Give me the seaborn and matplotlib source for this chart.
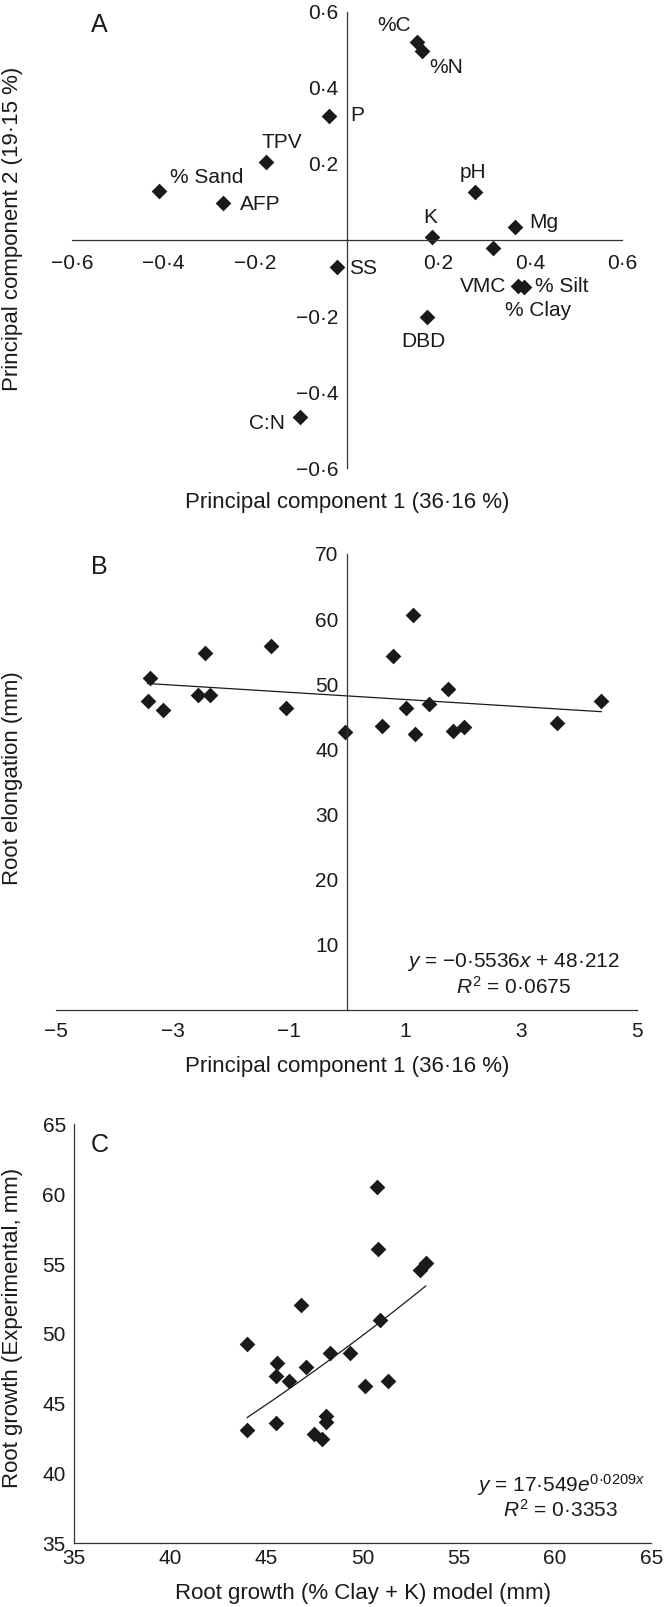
import numpy as np
import pandas as pd
import matplotlib
matplotlib.use('Agg')
import matplotlib.pyplot as plt
import seaborn as sns

# Panel A - PCA loadings
pca_labels = ['%C', '%N', 'P', 'TPV', '% Sand', 'AFP', 'pH', 'K', 'Mg', 'VMC',
              'SS', '% Silt', '% Clay', 'DBD', 'C:N']
pc1_load = [0.154, 0.165, -0.039, -0.176, -0.409, -0.270, 0.279, 0.186, 0.367, 0.319,
            -0.022, 0.374, 0.386, 0.175, -0.102]
pc2_load = [0.520, 0.496, 0.327, 0.204, 0.130, 0.096, 0.127, 0.009, 0.035, -0.020,
            -0.072, -0.120, -0.123, -0.202, -0.464]
pca_ticks = [-0.6, -0.4, -0.2, 0.2, 0.4, 0.6]
pca_ticklabels = ['\u22120\u00b76', '\u22120\u00b74', '\u22120\u00b72', '0\u00b72', '0\u00b74', '0\u00b76']

# Panel B - root elongation vs PC1 score
pc1_score = [-3.38, -3.43, -3.16, -2.44, -2.56, -2.36, -1.30, -1.04, -0.04, 0.60,
             0.79, 1.01, 1.17, 1.42, 1.74, 1.83, 2.01, 3.62, 4.38, 1.14]
root_elong = [50.9, 47.5, 46.0, 54.8, 48.4, 48.4, 55.9, 46.4, 42.7, 43.6,
              54.4, 46.4, 42.3, 46.9, 49.2, 42.8, 43.5, 44.0, 47.4, 60.6]
lin_slope, lin_icpt = -0.5536, 48.212
b_xticks = [-5, -3, -1, 1, 3, 5]
b_xticklabels = ['\u22125', '\u22123', '\u22121', '1', '3', '5']
b_yticks = [10, 20, 30, 40, 50, 60, 70]

# Panel C - experimental vs modelled root growth
model_growth = [50.72, 50.79, 52.95, 53.28, 46.80, 50.90, 43.98, 45.57, 45.48, 46.19,
                47.05, 48.28, 49.36, 50.11, 51.32, 43.98, 45.48, 47.48, 47.88, 48.10, 48.10]
exp_growth = [60.5, 56.1, 54.6, 55.1, 52.1, 51.0, 49.3, 47.9, 47.0, 46.6,
              47.6, 48.6, 48.6, 46.3, 46.6, 43.1, 43.6, 42.8, 42.5, 44.1, 43.7]
exp_a, exp_b = 17.549, 0.0209
c_ticks = [35, 40, 45, 50, 55, 60, 65]

# label placement for panel A (offset from point, data units)
label_offsets = {'%C': (-0.051, 0.044), '%N': (0.052, -0.042), 'P': (0.061, 0.0),
                 'TPV': (0.033, 0.053), '% Sand': (0.104, 0.033), 'AFP': (0.081, -0.003),
                 'pH': (-0.003, 0.051), 'K': (-0.005, 0.050), 'Mg': (0.062, 0.011),
                 'VMC': (-0.022, -0.103), 'SS': (0.057, -0.003), '% Silt': (0.094, -0.003),
                 '% Clay': (0.032, -0.061), 'DBD': (-0.009, -0.065), 'C:N': (-0.072, -0.018)}

sns.set_theme(style='white')
plt.rcParams['font.family'] = ['Liberation Sans', 'DejaVu Sans']
plt.rcParams['mathtext.fontset'] = 'custom'
plt.rcParams['mathtext.rm'] = 'Liberation Sans'
plt.rcParams['mathtext.it'] = 'Liberation Sans:italic'
plt.rcParams['text.color'] = '#1a1a1a'

FS = 15
LFS = 16
ink = '#1a1a1a'

fig = plt.figure(figsize=(6.64, 16.07), dpi=100)
axA = fig.add_axes([0.1084, 0.7086, 0.828, 0.2841])
axB = fig.add_axes([0.0848, 0.3715, 0.8752, 0.2838])
axC = fig.add_axes([0.1116, 0.0396, 0.8694, 0.2607])


def style_axis(ax, centered):
    for side in ['top', 'right']:
        ax.spines[side].set_visible(False)
    for side in ['left', 'bottom']:
        ax.spines[side].set_color('#333333')
        ax.spines[side].set_linewidth(0.9)
        if centered:
            ax.spines[side].set_position(('data', 0))
    ax.tick_params(direction='in', length=4.5, width=0.9, colors='#333333',
                   labelcolor=ink, labelsize=FS)
    ax.set_xlabel('')
    ax.set_ylabel('')
    ax.grid(False)


# ---- A ----
sns.scatterplot(x=pc1_load, y=pc2_load, marker='D', s=64, color=ink, linewidth=0, ax=axA)
for lab, x, y in zip(pca_labels, pc1_load, pc2_load):
    dx, dy = label_offsets[lab]
    axA.text(x + dx, y + dy, lab, ha='center', va='center', fontsize=FS)
axA.set_xlim(-0.6, 0.6)
axA.set_ylim(-0.6, 0.6)
style_axis(axA, True)
axA.set_xticks(pca_ticks)
axA.set_xticklabels(pca_ticklabels)
axA.set_yticks(pca_ticks)
axA.set_yticklabels(pca_ticklabels)
axA.tick_params(axis='x', pad=10)
axA.tick_params(axis='y', pad=6)
axA.text(0.05, 0.971, 'A', transform=axA.transAxes, fontsize=18, ha='center', va='center')

# ---- B ----
sns.scatterplot(x=pc1_score, y=root_elong, marker='D', s=64, color=ink, linewidth=0, ax=axB)
xb = np.array([min(pc1_score), max(pc1_score)])
sns.lineplot(x=xb, y=lin_slope * xb + lin_icpt, color=ink, linewidth=0.9, ax=axB)
axB.set_xlim(-5, 5)
axB.set_ylim(0, 70)
style_axis(axB, True)
axB.set_xticks(b_xticks)
axB.set_xticklabels(b_xticklabels)
axB.set_yticks(b_yticks)
axB.tick_params(axis='x', pad=9)
axB.tick_params(axis='y', pad=6)
axB.text(0.0743, 0.972, 'B', transform=axB.transAxes, fontsize=18, ha='center', va='center')
axB.text(2.87, 7.41, '$y$ = \u22120\u00b75536$x$ + 48\u00b7212', ha='center', va='center', fontsize=FS)
axB.text(2.87, 3.58, '$R^{\\mathrm{2}}$ = 0\u00b70675', ha='center', va='center', fontsize=FS)

# ---- C ----
sns.scatterplot(x=model_growth, y=exp_growth, marker='D', s=64, color=ink, linewidth=0, ax=axC)
xc = np.linspace(min(model_growth), max(model_growth), 50)
sns.lineplot(x=xc, y=exp_a * np.exp(exp_b * xc), color=ink, linewidth=0.9, ax=axC)
axC.set_xlim(35, 65)
axC.set_ylim(35, 65)
style_axis(axC, False)
axC.set_xticks(c_ticks)
axC.set_yticks(c_ticks)
axC.tick_params(axis='x', pad=4)
axC.tick_params(axis='y', pad=6)
axC.text(0.044, 0.951, 'C', transform=axC.transAxes, fontsize=18, ha='center', va='center')
axC.text(60.3, 39.18, '$y$ = 17\u00b7549$e^{\\mathrm{0\u00b70209}x}$', ha='center', va='center', fontsize=FS)
axC.text(60.3, 37.39, '$R^{\\mathrm{2}}$ = 0\u00b73353', ha='center', va='center', fontsize=FS)

# axis titles
W, H = 664, 1607
fig.text(347 / W, 1 - 502.7 / H, 'Principal component 1 (36\u00b716 %)', ha='center', va='center', fontsize=LFS)
fig.text(12.5 / W, 1 - 229 / H, 'Principal component 2 (19\u00b715 %)', rotation=90, ha='center', va='center', fontsize=LFS)
fig.text(347 / W, 1 - 1066.7 / H, 'Principal component 1 (36\u00b716 %)', ha='center', va='center', fontsize=LFS)
fig.text(12.5 / W, 1 - 778 / H, 'Root elongation (mm)', rotation=90, ha='center', va='center', fontsize=LFS)
fig.text(363 / W, 1 - 1593 / H, 'Root growth (% Clay + K) model (mm)', ha='center', va='center', fontsize=LFS)
fig.text(12.5 / W, 1 - 1328 / H, 'Root growth (Experimental, mm)', rotation=90, ha='center', va='center', fontsize=LFS)

fig.savefig('out.png', dpi=100)
